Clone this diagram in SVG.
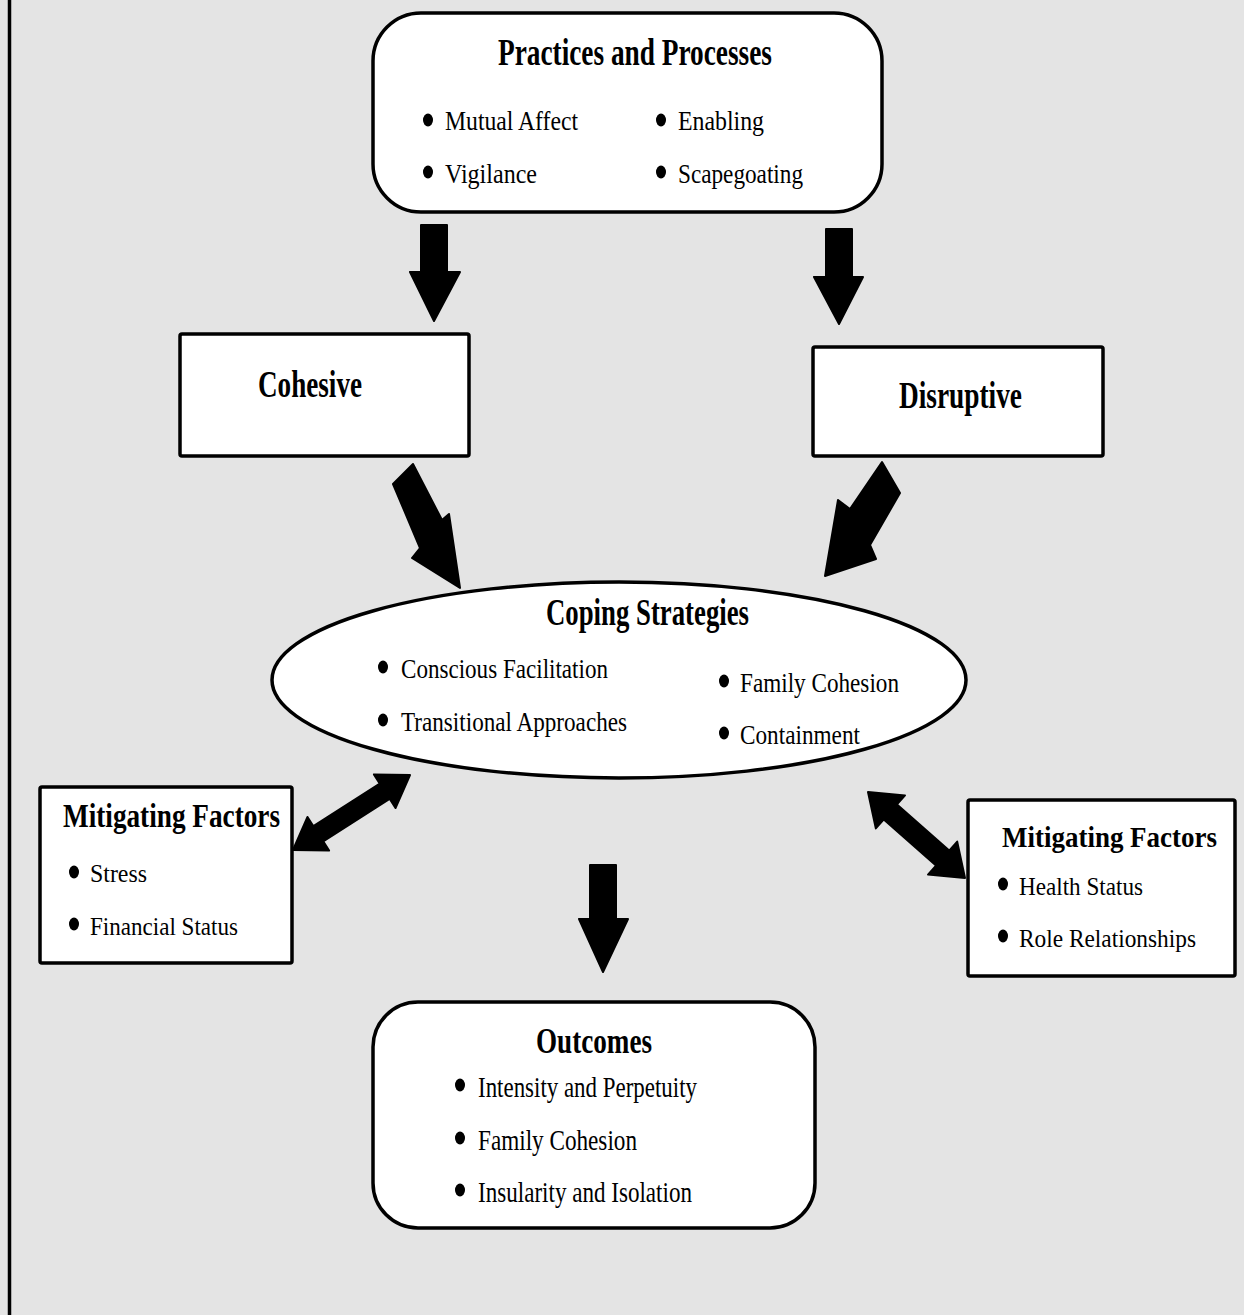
<svg xmlns="http://www.w3.org/2000/svg" width="1244" height="1315" viewBox="0 0 1244 1315">
<style>
.bg{fill:#e4e4e4}
.box{fill:#ffffff;stroke:#000000;stroke-width:3.5}
.arr{fill:#000000;stroke:#000000;stroke-width:2;stroke-linejoin:round}
.t{font-family:"Liberation Serif","Times New Roman",serif;font-weight:bold;fill:#000000}
.b{font-family:"Liberation Serif","Times New Roman",serif;fill:#000000}
.dot{fill:#000000}
</style>
<rect class="bg" x="0" y="0" width="1244" height="1315"/>
<line x1="9.5" y1="0" x2="9.5" y2="1315" stroke="#000" stroke-width="3.5"/>

<g id="connectors">
<polygon class="arr" points="421,225 447,225 447,272 460,272 434,321 410,272 421,272"/>
<polygon class="arr" points="826,229 852,229 852,277 863,277 839,324 814,277 826,277"/>
<polygon class="arr" points="393,484 413,464 442,520 449,514 460,588 412,558 420,548"/>
<polygon class="arr" points="882,462 900,493 870,545 876,559 825,576 838,500 850,509"/>
<polygon class="arr" points="293,850 307.5,817 313.4,826.2 379.8,783.6 373.9,774.4 410,775 395.5,808 389.6,798.8 323.2,841.4 329.1,850.6"/>
<polygon class="arr" points="868,792 905,795.4 897,804.4 949.2,850.6 957.2,841.6 965,878 928,874.6 936,865.6 883.8,819.4 875.8,828.4"/>
<polygon class="arr" points="590,865 616,865 616,919 628,919 603,972 579,919 590,919"/>
</g>

<g id="practices">
<rect class="box" x="373" y="13" width="509" height="199" rx="48" ry="48"/>
<text class="t" x="498" y="65" font-size="38" textLength="274" lengthAdjust="spacingAndGlyphs">Practices and Processes</text>
<ellipse class="dot" cx="428" cy="120" rx="5" ry="6.5"/>
<text class="b" x="445" y="130" font-size="28" textLength="133" lengthAdjust="spacingAndGlyphs">Mutual Affect</text>
<ellipse class="dot" cx="428" cy="172" rx="5" ry="6.5"/>
<text class="b" x="445" y="183" font-size="28" textLength="92" lengthAdjust="spacingAndGlyphs">Vigilance</text>
<ellipse class="dot" cx="661" cy="120" rx="5" ry="6.5"/>
<text class="b" x="678" y="130" font-size="28" textLength="86" lengthAdjust="spacingAndGlyphs">Enabling</text>
<ellipse class="dot" cx="661" cy="172" rx="5" ry="6.5"/>
<text class="b" x="678" y="183" font-size="28" textLength="125" lengthAdjust="spacingAndGlyphs">Scapegoating</text>
</g>

<g id="cohesive">
<rect class="box" x="180" y="334" width="289" height="122" rx="2"/>
<text class="t" x="258" y="397" font-size="38" textLength="104" lengthAdjust="spacingAndGlyphs">Cohesive</text>
</g>

<g id="disruptive">
<rect class="box" x="813" y="347" width="290" height="109" rx="2"/>
<text class="t" x="899" y="408" font-size="38" textLength="123" lengthAdjust="spacingAndGlyphs">Disruptive</text>
</g>

<g id="coping">
<ellipse class="box" cx="619" cy="680" rx="347" ry="98"/>
<text class="t" x="546" y="625" font-size="38" textLength="203" lengthAdjust="spacingAndGlyphs">Coping Strategies</text>
<ellipse class="dot" cx="383" cy="667" rx="5" ry="6.5"/>
<text class="b" x="401" y="678" font-size="28" textLength="207" lengthAdjust="spacingAndGlyphs">Conscious Facilitation</text>
<ellipse class="dot" cx="383" cy="720" rx="5" ry="6.5"/>
<text class="b" x="401" y="731" font-size="28" textLength="226" lengthAdjust="spacingAndGlyphs">Transitional Approaches</text>
<ellipse class="dot" cx="724" cy="681" rx="5" ry="6.5"/>
<text class="b" x="740" y="692" font-size="28" textLength="159" lengthAdjust="spacingAndGlyphs">Family Cohesion</text>
<ellipse class="dot" cx="724" cy="733" rx="5" ry="6.5"/>
<text class="b" x="740" y="744" font-size="28" textLength="120" lengthAdjust="spacingAndGlyphs">Containment</text>
</g>

<g id="mitigating-left">
<rect class="box" x="40" y="787" width="252" height="176" rx="2"/>
<text class="t" x="63" y="827" font-size="33" textLength="217" lengthAdjust="spacingAndGlyphs">Mitigating Factors</text>
<ellipse class="dot" cx="74" cy="872" rx="5" ry="6.5"/>
<text class="b" x="90" y="882" font-size="26" textLength="57" lengthAdjust="spacingAndGlyphs">Stress</text>
<ellipse class="dot" cx="74" cy="924" rx="5" ry="6.5"/>
<text class="b" x="90" y="935" font-size="26" textLength="148" lengthAdjust="spacingAndGlyphs">Financial Status</text>
</g>

<g id="mitigating-right">
<rect class="box" x="968" y="800" width="267" height="176" rx="2"/>
<text class="t" x="1002" y="847" font-size="30" textLength="215" lengthAdjust="spacingAndGlyphs">Mitigating Factors</text>
<ellipse class="dot" cx="1003" cy="884" rx="5" ry="6.5"/>
<text class="b" x="1019" y="895" font-size="26" textLength="124" lengthAdjust="spacingAndGlyphs">Health Status</text>
<ellipse class="dot" cx="1003" cy="936" rx="5" ry="6.5"/>
<text class="b" x="1019" y="947" font-size="26" textLength="177" lengthAdjust="spacingAndGlyphs">Role Relationships</text>
</g>

<g id="outcomes">
<rect class="box" x="373" y="1002" width="442" height="226" rx="45" ry="45"/>
<text class="t" x="536" y="1053" font-size="36" textLength="116" lengthAdjust="spacingAndGlyphs">Outcomes</text>
<ellipse class="dot" cx="460" cy="1085" rx="5" ry="6.5"/>
<text class="b" x="478" y="1097" font-size="30" textLength="219" lengthAdjust="spacingAndGlyphs">Intensity and Perpetuity</text>
<ellipse class="dot" cx="460" cy="1138" rx="5" ry="6.5"/>
<text class="b" x="478" y="1150" font-size="30" textLength="159" lengthAdjust="spacingAndGlyphs">Family Cohesion</text>
<ellipse class="dot" cx="460" cy="1190" rx="5" ry="6.5"/>
<text class="b" x="478" y="1202" font-size="30" textLength="214" lengthAdjust="spacingAndGlyphs">Insularity and Isolation</text>
</g>
</svg>
